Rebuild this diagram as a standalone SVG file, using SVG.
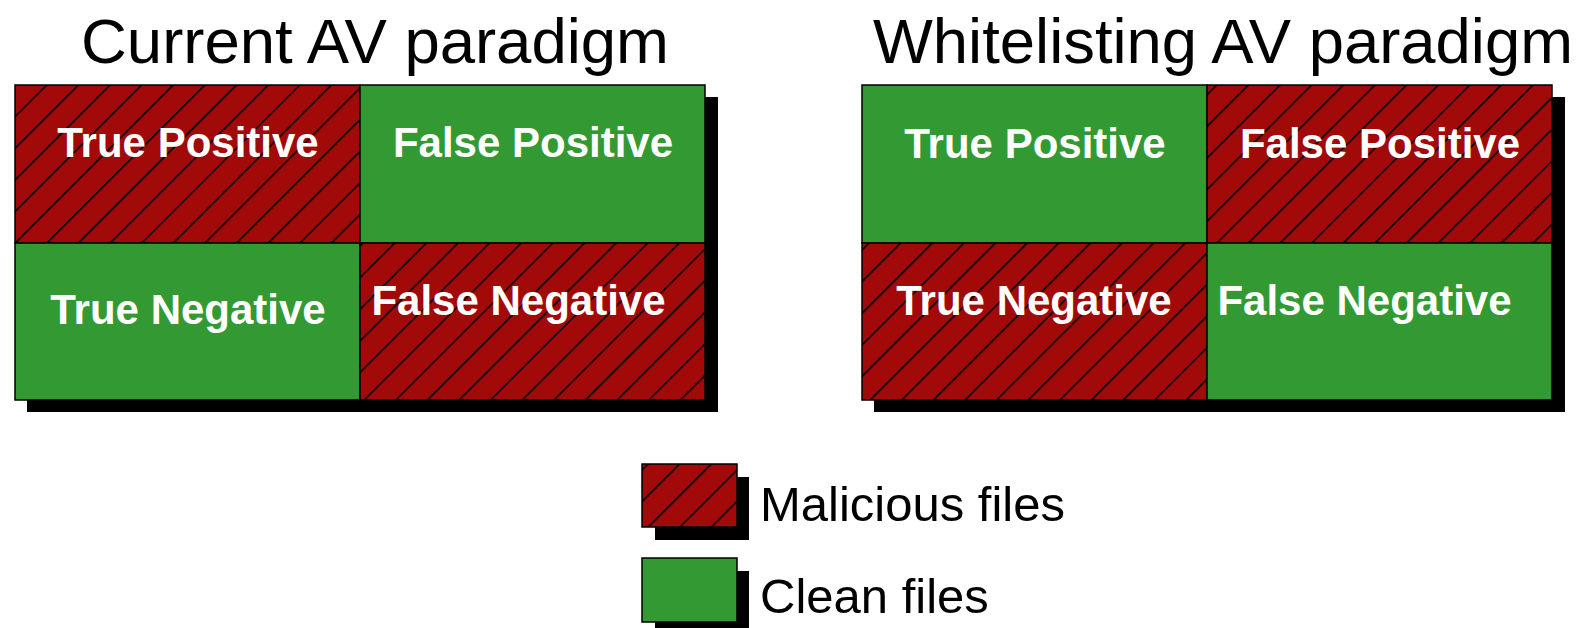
<svg xmlns="http://www.w3.org/2000/svg" width="1576" height="628" viewBox="0 0 1576 628">
  <defs>
    <pattern id="hatch" patternUnits="userSpaceOnUse" width="22.36" height="20" patternTransform="rotate(45)">
      <rect x="0" y="0" width="22.36" height="20" fill="#a20909"/>
      <line x1="3.7" y1="-1" x2="3.7" y2="21" stroke="#000" stroke-width="1.6"/>
    </pattern>
  </defs>
  <style>
    .title { font-family: "Liberation Sans", Arial, sans-serif; font-size: 63.5px; fill: #000; }
    .lbl { font-family: "Liberation Sans", Arial, sans-serif; font-size: 42px; font-weight: bold; fill: #fff; }
    .leg { font-family: "Liberation Sans", Arial, sans-serif; font-size: 49px; fill: #000; }
    .mal { fill: url(#hatch); stroke: #000; stroke-width: 1.5; }
    .cln { fill: #339933; stroke: #000; stroke-width: 1.5; }
    .shadow { fill: #000; }
  </style>

  <text class="title" x="81" y="63" textLength="588" lengthAdjust="spacingAndGlyphs">Current AV paradigm</text>
  <text class="title" x="873" y="63" textLength="700" lengthAdjust="spacingAndGlyphs">Whitelisting AV paradigm</text>

  <g id="current-matrix">
    <rect class="shadow" x="27" y="97" width="691" height="315"/>
    <g id="cur-tp">
      <rect class="mal" x="15" y="85" width="345" height="158"/>
      <text class="lbl" x="188" y="157" text-anchor="middle">True Positive</text>
    </g>
    <g id="cur-fp">
      <rect class="cln" x="360" y="85" width="345" height="158"/>
      <text class="lbl" x="533" y="157" text-anchor="middle">False Positive</text>
    </g>
    <g id="cur-tn">
      <rect class="cln" x="15" y="243" width="345" height="157"/>
      <text class="lbl" x="188" y="324" text-anchor="middle">True Negative</text>
    </g>
    <g id="cur-fn">
      <rect class="mal" x="360" y="243" width="345" height="157"/>
      <text class="lbl" x="518.5" y="315" text-anchor="middle">False Negative</text>
    </g>
  </g>

  <g id="whitelisting-matrix">
    <rect class="shadow" x="874" y="97" width="691" height="315"/>
    <g id="wl-tp">
      <rect class="cln" x="862" y="85" width="345" height="158"/>
      <text class="lbl" x="1035" y="158" text-anchor="middle">True Positive</text>
    </g>
    <g id="wl-fp">
      <rect class="mal" x="1207" y="85" width="345" height="158"/>
      <text class="lbl" x="1380" y="158" text-anchor="middle">False Positive</text>
    </g>
    <g id="wl-tn">
      <rect class="mal" x="862" y="243" width="345" height="157"/>
      <text class="lbl" x="1034" y="315" text-anchor="middle">True Negative</text>
    </g>
    <g id="wl-fn">
      <rect class="cln" x="1207" y="243" width="345" height="157"/>
      <text class="lbl" x="1364.5" y="315" text-anchor="middle">False Negative</text>
    </g>
  </g>

  <g id="legend-malicious">
    <rect class="shadow" x="655" y="477" width="94" height="63"/>
    <rect class="mal" x="642" y="464" width="95" height="63"/>
    <text class="leg" x="760" y="521">Malicious files</text>
  </g>
  <g id="legend-clean">
    <rect class="shadow" x="655" y="571" width="94" height="63"/>
    <rect class="cln" x="642" y="558" width="95" height="64"/>
    <text class="leg" x="760" y="613">Clean files</text>
  </g>

  <g id="connectors"/>
</svg>
